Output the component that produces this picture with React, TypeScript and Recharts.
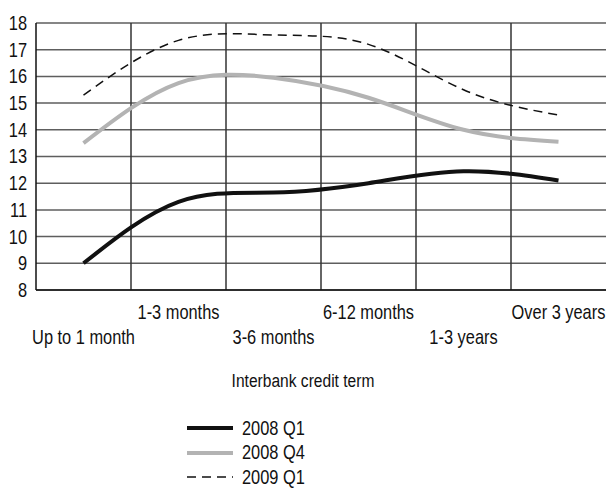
import React from 'react';
import { LineChart, Line, XAxis, YAxis, CartesianGrid, Legend } from 'recharts';

const terms = ['Up to 1 month', '1-3 months', '3-6 months', '6-12 months', '1-3 years', 'Over 3 years'];
const q1of2008 = [9.0, 11.3, 11.65, 12.0, 12.45, 12.1];
const q4of2008 = [13.5, 15.75, 15.95, 15.2, 14.0, 13.55];
const q1of2009 = [15.3, 17.35, 17.55, 17.2, 15.5, 14.55];
const yTicks = [8, 9, 10, 11, 12, 13, 14, 15, 16, 17, 18];

const data = terms.map((term, i) => ({
  term,
  q1of2008: q1of2008[i],
  q4of2008: q4of2008[i],
  q1of2009: q1of2009[i],
}));

const FONT = '"Liberation Sans", Arial, sans-serif';
const NARROW = 0.82; // squeeze to look like a condensed face

const squeeze = (x) => `translate(${x},0) scale(${NARROW},1) translate(${-x},0)`;

// labels alternate between two rows
const TermTick = (props) => {
  const { x, y, payload, index } = props;
  return (
    <text
      x={x}
      y={y + (index % 2 === 1 ? 29 : 54)}
      transform={squeeze(x)}
      textAnchor="middle"
      fontFamily={FONT}
      fontSize={20}
      fill="#111"
    >
      {payload.value}
    </text>
  );
};

const RateTick = (props) => {
  const { x, y, payload } = props;
  return (
    <text x={x} y={y + 7} transform={squeeze(x)} textAnchor="end" fontFamily={FONT} fontSize={20} fill="#111">
      {payload.value}
    </text>
  );
};

// grid lines sit on the borders between the term bands
const bandBorders = ({ xAxis, offset }) => {
  if (xAxis && typeof xAxis.scale === 'function') {
    return terms.slice(1).map((t) => xAxis.scale(t));
  }
  const band = offset.width / terms.length;
  return terms.slice(1).map((_, i) => offset.left + band * (i + 1));
};

const LegendList = ({ payload }) => (
  <div style={{ fontFamily: FONT, fontSize: 20, color: '#111' }}>
    {(payload || []).map((entry) => (
      <div key={entry.value} style={{ display: 'flex', alignItems: 'center', height: 24.5 }}>
        <svg width={46} height={24} style={{ marginRight: 9 }}>
          <line
            x1={0}
            x2={46}
            y1={12}
            y2={12}
            stroke={entry.color}
            strokeWidth={entry.payload.strokeWidth}
            strokeDasharray={entry.payload.strokeDasharray}
          />
        </svg>
        <span style={{ display: 'inline-block', transform: `scaleX(${NARROW})`, transformOrigin: 'left center' }}>
          {entry.value}
        </span>
      </div>
    ))}
  </div>
);

export default function App() {
  return (
    <div style={{ position: 'absolute', left: 0, top: 0 }}>
      <LineChart width={606} height={492} data={data} margin={{ top: 23, right: 0, left: 0, bottom: 142 }}>
        <CartesianGrid vertical={false} stroke="#5e5e5e" strokeWidth={1.5} />
        <CartesianGrid horizontal={false} verticalCoordinatesGenerator={bandBorders} stroke="#333" strokeWidth={1.5} />
        <XAxis
          dataKey="term"
          scale="band"
          height={60}
          interval={0}
          tickLine={false}
          tickSize={0}
          tickMargin={0}
          axisLine={{ stroke: '#111', strokeWidth: 1.5 }}
          tick={<TermTick />}
        />
        <YAxis
          width={36}
          domain={[8, 18]}
          ticks={yTicks}
          interval={0}
          tickLine={false}
          tickSize={0}
          tickMargin={9}
          axisLine={{ stroke: '#111', strokeWidth: 1.5 }}
          tick={<RateTick />}
        />
        <Line type="natural" dataKey="q1of2008" name="2008 Q1" stroke="#111" strokeWidth={4} dot={false} isAnimationActive={false} />
        <Line type="natural" dataKey="q4of2008" name="2008 Q4" stroke="#b3b3b3" strokeWidth={4} dot={false} isAnimationActive={false} />
        <Line
          type="natural"
          dataKey="q1of2009"
          name="2009 Q1"
          stroke="#111"
          strokeWidth={1.5}
          strokeDasharray="9 6"
          dot={false}
          isAnimationActive={false}
        />
        <text x={303} y={387} transform={squeeze(303)} textAnchor="middle" fontFamily={FONT} fontSize={19} fill="#111">
          Interbank credit term
        </text>
        <Legend
          layout="vertical"
          align="center"
          verticalAlign="middle"
          content={<LegendList />}
          wrapperStyle={{ left: 187, top: 416, width: 150 }}
        />
      </LineChart>
    </div>
  );
}
